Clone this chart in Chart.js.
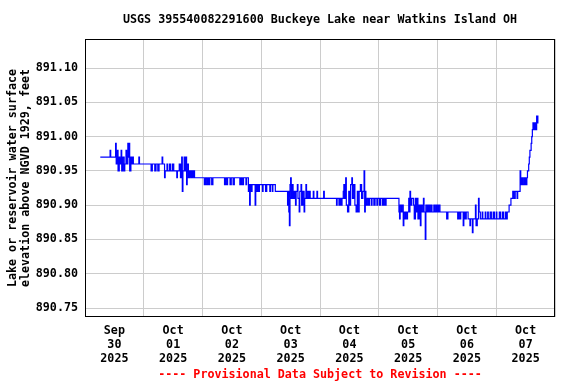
<!DOCTYPE html>
<html lang="en">
<head>
<meta charset="UTF-8">
<title>USGS 395540082291600 Buckeye Lake near Watkins Island OH</title>
<style>
  body { margin: 0; padding: 0; background: #fff; }
  canvas { display: block; }
</style>
<script src="https://cdn.jsdelivr.net/npm/chart.js"></script>
</head>
<body>
<canvas id="lakeChart" width="576" height="384"></canvas>
<script>
  // hours since Sep 30 2025 00:00, and lake elevation (ft NGVD 1929), stepped
  const hours = [
    6.25, 10.25, 10.5, 12.5, 12.75, 13.25, 13.5, 14.0, 14.25, 14.75, 15.0, 15.5, 16.0, 16.25, 16.75, 17.0,
    17.5, 17.75, 18.0, 18.25, 18.75, 19.0, 19.5, 19.75, 22.0, 22.25, 27.0, 27.5, 28.5, 29.0, 29.75, 30.25,
    31.5, 31.75, 32.5, 32.75, 33.5, 33.75, 34.5, 35.0, 35.75, 36.25,
    37.5, 37.75, 38.5, 39.0, 39.5, 39.75, 40.0, 40.5, 40.75, 41.25, 41.5, 41.75, 42.25, 42.75, 43.25, 43.5,
    44.0, 44.25, 44.75,
    48.75, 49.25, 49.75, 50.25, 50.75, 51.0, 51.75, 52.25, 57.0, 57.5, 58.0, 58.25, 59.25, 59.75, 60.5, 61.0,
    63.25, 63.75, 64.25, 64.75, 65.75, 66.0, 66.75, 67.0,
    67.25, 67.5, 68.0, 68.25, 69.5, 69.75, 70.25, 70.5, 71.0, 71.25,
    72.5, 72.75, 73.75, 74.25, 75.5, 75.75, 76.5, 76.75, 77.75,
    82.75, 83.0, 83.25, 83.5, 83.75, 84.0, 84.25,
    84.75, 85.0, 85.5, 86.0, 86.25, 86.75, 87.0, 87.5, 87.75, 88.25, 88.5, 89.0, 89.5, 89.75, 90.25, 90.5,
    91.0, 91.25, 91.75, 92.0,
    93.25, 93.5, 94.75, 95.0, 97.5, 97.75,
    102.75, 103.0, 103.75, 104.25, 104.75, 105.0,
    105.5, 105.75, 106.0, 106.5, 106.75, 107.25, 107.75, 108.0, 108.5, 109.0, 109.25, 109.75, 110.25, 110.75,
    111.25, 111.5, 112.0, 112.5, 113.0, 113.5, 114.0, 114.25, 114.5, 114.75, 115.25,
    115.75, 116.25, 117.0, 117.25, 118.0, 118.5, 119.25, 119.5, 120.25, 120.75, 121.5, 122.0, 122.5, 123.0,
    128.25, 128.5, 128.75, 129.25, 129.5, 130.0, 130.25, 130.75, 131.0, 131.5, 131.75,
    132.25, 132.5, 132.75, 133.0, 133.5, 134.25,
    134.5, 135.0, 135.25, 135.75, 136.0, 136.5, 137.0, 137.25, 137.75, 138.25, 138.5, 139.0, 139.25,
    139.75, 140.25, 140.75, 141.25, 141.75, 142.5, 143.0, 143.5, 144.0, 144.5, 145.0,
    147.75, 148.25, 152.25, 152.75, 153.25, 153.5, 154.5, 154.75, 155.25, 155.75, 156.5,
    157.25, 157.5, 158.25, 158.5, 159.5, 159.75, 160.25, 160.75, 161.0, 161.5,
    162.25, 162.5, 163.5, 163.75, 164.5, 164.75, 165.5, 166.0, 166.75, 167.25, 168.0, 168.25, 169.25, 169.75,
    170.5, 171.0, 171.75, 172.0, 172.5,
    173.25, 174.0, 174.75, 175.25, 175.75, 176.5, 176.75, 177.75, 178.0, 178.5, 179.0, 179.5, 180.0, 180.5,
    180.75, 181.25, 181.5, 181.75, 182.25, 182.5, 182.75, 183.0, 183.25, 183.75, 184.0, 184.5, 184.75, 185.0,
    185.25
  ];
  const elevation = [
    890.97, 890.98, 890.97, 890.99, 890.96, 890.98, 890.95, 890.97, 890.96, 890.98, 890.95, 890.97, 890.95, 890.96, 890.98, 890.96,
    890.99, 890.97, 890.99, 890.95, 890.97, 890.96, 890.97, 890.96, 890.97, 890.96, 890.95, 890.96, 890.95, 890.96, 890.95, 890.96,
    890.97, 890.96, 890.94, 890.95, 890.96, 890.95, 890.96, 890.95, 890.96, 890.95,
    890.94, 890.95, 890.96, 890.94, 890.97, 890.92, 890.95, 890.97, 890.95, 890.97, 890.93, 890.96, 890.94, 890.95, 890.94, 890.95,
    890.94, 890.95, 890.94,
    890.93, 890.94, 890.93, 890.94, 890.93, 890.94, 890.93, 890.94, 890.93, 890.94, 890.93, 890.94, 890.93, 890.94, 890.93, 890.94,
    890.93, 890.94, 890.93, 890.94, 890.93, 890.94, 890.92, 890.93,
    890.90, 890.93, 890.92, 890.93, 890.90, 890.93, 890.92, 890.93, 890.92, 890.93,
    890.92, 890.93, 890.92, 890.93, 890.92, 890.93, 890.92, 890.93, 890.92,
    890.90, 890.92, 890.89, 890.87, 890.93, 890.94, 890.91,
    890.93, 890.91, 890.92, 890.90, 890.92, 890.93, 890.91, 890.89, 890.92, 890.93, 890.90, 890.92, 890.89, 890.91, 890.93, 890.91,
    890.92, 890.91, 890.92, 890.91,
    890.92, 890.91, 890.92, 890.91, 890.92, 890.91,
    890.90, 890.91, 890.90, 890.91, 890.90, 890.91,
    890.92, 890.93, 890.91, 890.94, 890.90, 890.89, 890.92, 890.90, 890.93, 890.94, 890.91, 890.93, 890.90, 890.89,
    890.92, 890.89, 890.92, 890.93, 890.91, 890.92, 890.95, 890.89, 890.92, 890.90, 890.91,
    890.90, 890.91, 890.90, 890.91, 890.90, 890.91, 890.90, 890.91, 890.90, 890.91, 890.90, 890.91, 890.90, 890.91,
    890.89, 890.88, 890.90, 890.89, 890.90, 890.87, 890.89, 890.88, 890.89, 890.88, 890.89,
    890.91, 890.89, 890.92, 890.90, 890.91, 890.90,
    890.88, 890.91, 890.89, 890.91, 890.88, 890.90, 890.87, 890.90, 890.89, 890.91, 890.89, 890.85, 890.90,
    890.89, 890.90, 890.89, 890.90, 890.89, 890.90, 890.89, 890.90, 890.89, 890.90, 890.89,
    890.88, 890.89, 890.88, 890.89, 890.88, 890.89, 890.87, 890.89, 890.88, 890.89, 890.88,
    890.87, 890.88, 890.86, 890.88, 890.90, 890.87, 890.88, 890.91, 890.89, 890.88,
    890.89, 890.88, 890.89, 890.88, 890.89, 890.88, 890.89, 890.88, 890.89, 890.88, 890.89, 890.88, 890.89, 890.88,
    890.89, 890.88, 890.89, 890.88, 890.89,
    890.90, 890.91, 890.92, 890.91, 890.92, 890.91, 890.92, 890.95, 890.93, 890.94, 890.93, 890.94, 890.93, 890.94,
    890.95, 890.96, 890.97, 890.98, 890.99, 891.00, 891.01, 891.02, 891.01, 891.02, 891.01, 891.03, 891.02, 891.03,
    891.03
  ];

  // axis labels, one per day (centred at noon)
  const tickMonths = ['Sep', 'Oct', 'Oct', 'Oct', 'Oct', 'Oct', 'Oct', 'Oct'];
  const tickDays = ['30', '01', '02', '03', '04', '05', '06', '07'];
  const tickYear = '2025';
  const yTicks = [890.75, 890.80, 890.85, 890.90, 890.95, 891.00, 891.05, 891.10];

  const titleText = 'USGS 395540082291600 Buckeye Lake near Watkins Island OH';
  const footerText = '---- Provisional Data Subject to Revision ----';
  const yTitle = ['Lake or reservoir water surface', 'elevation above NGVD 1929, feet'];

  const monoFont = { family: '"DejaVu Sans Mono", monospace', size: 11.7, weight: 'bold' };

  const points = hours.map((h, i) => ({ x: h, y: elevation[i] }));

  const frame = {
    id: 'frame',
    afterDatasetsDraw(chart) {
      const { ctx, chartArea: a } = chart;
      ctx.save();
      ctx.strokeStyle = '#000';
      ctx.lineWidth = 1;
      ctx.strokeRect(a.left + 0.5, a.top + 0.5, a.right - a.left - 1, a.bottom - a.top - 1);
      ctx.font = 'bold 11.7px "DejaVu Sans Mono", monospace';
      ctx.textAlign = 'center';
      ctx.textBaseline = 'middle';
      const cx = (a.left + a.right) / 2;
      ctx.fillStyle = '#000';
      ctx.fillText(titleText, cx, 20);
      ctx.fillStyle = '#ff0000';
      ctx.fillText(footerText, cx, 375);
      ctx.restore();
    }
  };

  new Chart(document.getElementById('lakeChart').getContext('2d'), {
    type: 'line',
    data: {
      datasets: [{
        data: points,
        borderColor: '#0000ff',
        borderWidth: 1.2,
        pointRadius: 0,
        stepped: true,
        fill: false
      }]
    },
    options: {
      responsive: false,
      animation: false,
      layout: { padding: { top: 39, right: 21, bottom: 0, left: 0 } },
      plugins: {
        legend: { display: false },
        tooltip: { enabled: false }
      },
      scales: {
        x: {
          type: 'linear',
          min: 0,
          max: 192,
          afterBuildTicks: s => { s.ticks = Array.from({ length: 17 }, (_, i) => ({ value: i * 12 })); },
          afterFit: s => { s.height = 67; },
          border: { display: false },
          grid: {
            drawTicks: false,
            color: c => (c.tick && c.tick.value % 24 === 0) ? '#cccccc' : 'rgba(0,0,0,0)'
          },
          ticks: {
            autoSkip: false,
            maxRotation: 0,
            padding: 7,
            color: '#000',
            font: { ...monoFont, lineHeight: 1.2 },
            callback: v => {
              if (v % 24 !== 12) return '';
              const d = (v - 12) / 24;
              return [tickMonths[d], tickDays[d], tickYear];
            }
          }
        },
        y: {
          min: 890.7369,
          max: 891.1423,
          afterBuildTicks: s => { s.ticks = yTicks.map(v => ({ value: v })); },
          afterFit: s => { s.width = 85; },
          border: { display: false },
          grid: { drawTicks: false, color: '#cccccc' },
          ticks: {
            padding: 7,
            color: '#000',
            font: monoFont,
            callback: v => v.toFixed(2)
          },
          title: {
            display: true,
            text: yTitle,
            color: '#000',
            padding: { top: 6, bottom: 0 },
            font: { ...monoFont, lineHeight: 1.12 }
          }
        }
      }
    },
    plugins: [frame]
  });
</script>
</body>
</html>
